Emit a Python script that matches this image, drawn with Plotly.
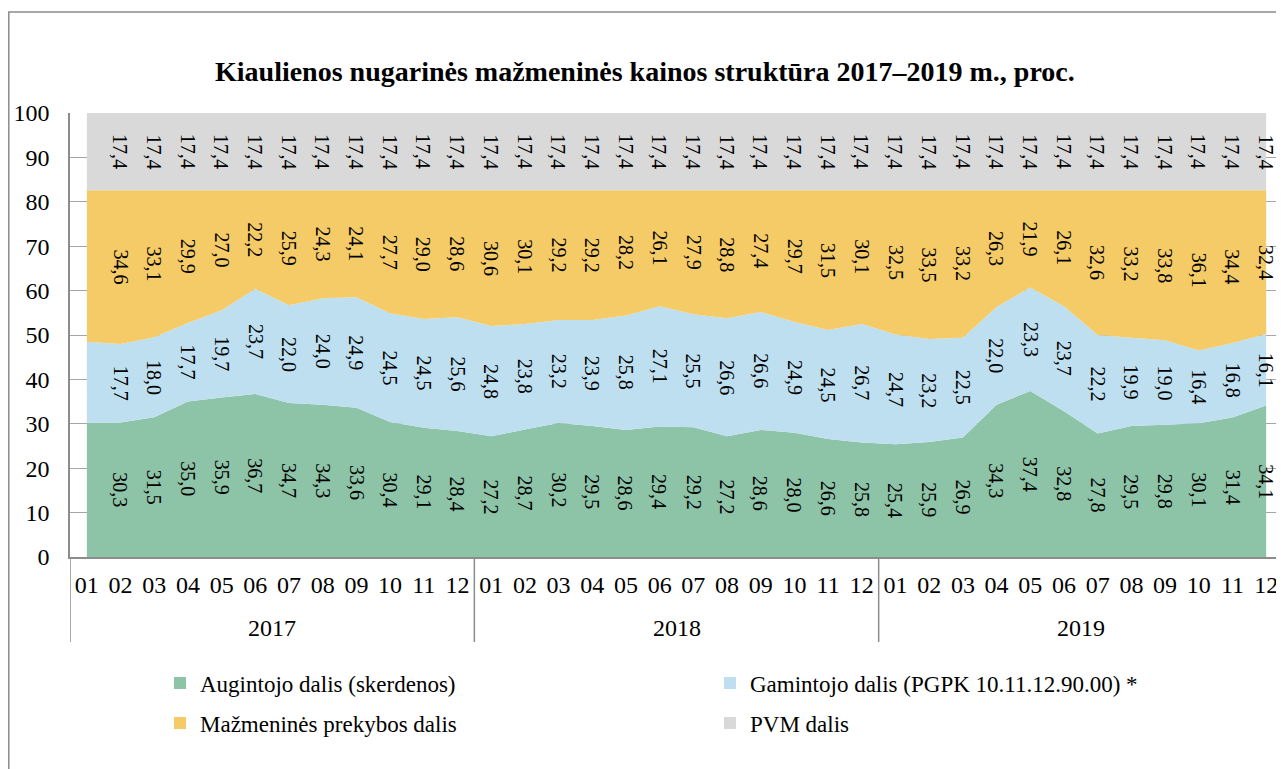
import plotly.graph_objects as go

years = ["2017", "2018", "2019"]
months = ["01", "02", "03", "04", "05", "06", "07", "08", "09", "10", "11", "12"]

augintojo = [30.2, 30.3, 31.5, 35.0, 35.9, 36.7, 34.7, 34.3, 33.6, 30.4, 29.1, 28.4,
             27.2, 28.7, 30.2, 29.5, 28.6, 29.4, 29.2, 27.2, 28.6, 28.0, 26.6, 25.8,
             25.4, 25.9, 26.9, 34.3, 37.4, 32.8, 27.8, 29.5, 29.8, 30.1, 31.4, 34.1]
gamintojo = [18.3, 17.7, 18.0, 17.7, 19.7, 23.7, 22.0, 24.0, 24.9, 24.5, 24.5, 25.6,
             24.8, 23.8, 23.2, 23.9, 25.8, 27.1, 25.5, 26.6, 26.6, 24.9, 24.5, 26.7,
             24.7, 23.2, 22.5, 22.0, 23.3, 23.7, 22.2, 19.9, 19.0, 16.4, 16.8, 16.1]
prekybos = [34.1, 34.6, 33.1, 29.9, 27.0, 22.2, 25.9, 24.3, 24.1, 27.7, 29.0, 28.6,
            30.6, 30.1, 29.2, 29.2, 28.2, 26.1, 27.9, 28.8, 27.4, 29.7, 31.5, 30.1,
            32.5, 33.5, 33.2, 26.3, 21.9, 26.1, 32.6, 33.2, 33.8, 36.1, 34.4, 32.4]
pvm = [17.4] * 36
# first month (2017-01) has no data labels in the source chart
labelled = [False] + [True] * 35

series_names = ["Augintojo dalis (skerdenos)", "Gamintojo dalis (PGPK 10.11.12.90.00) *",
                "Mažmeninės prekybos dalis", "PVM dalis"]
series_values = [augintojo, gamintojo, prekybos, pvm]
colors = ["#8DC3A7", "#BDDFEF", "#F4CB67", "#D9D9D9"]

FONT = "Liberation Serif"
W, H = 1276, 761          # page body has an 8px margin
ML, MR, MT, MB = 62, 1, 105, 212
PW = W - ML - MR
PH = H - MT - MB


def py(pix):  # figure pixel row -> paper y
    return (H - MB - pix) / PH


def px(pix):  # figure pixel column -> paper x
    return (pix - ML) / PW


n_m = len(months)
period_idx = list(range(len(years) * n_m))
tick_text = [m for _ in years for m in months]

legend_pos = [(152, 675), (702, 675), (152, 715), (702, 715)]
legend_ids = ["legend", "legend2", "legend3", "legend4"]

fig = go.Figure()
for name, vals, col in zip(series_names, series_values, colors):
    fig.add_trace(go.Scatter(x=period_idx, y=vals, name=name, stackgroup="one", mode="none",
                             fillcolor=col, showlegend=False, hoverinfo="skip"))
for name, col, lg in zip(series_names, colors, legend_ids):
    fig.add_trace(go.Scatter(x=[None], y=[None], name=name, mode="markers",
                             marker=dict(symbol="square", size=12, color=col),
                             legend=lg, showlegend=True))

annotations = []
base = [0.0] * len(period_idx)
for vals in series_values:
    for i, v in enumerate(vals):
        if labelled[i]:
            annotations.append(dict(
                x=period_idx[i], y=base[i] + v / 2, xref="x", yref="y",
                text=f"{v:.1f}".replace(".", ","), showarrow=False, textangle=90,
                font=dict(family=FONT, size=20, color="black")))
        base[i] += v

# year group labels and dividers
shapes = []
for k, yr in enumerate(years):
    first, last = k * n_m, (k + 1) * n_m - 1
    annotations.append(dict(x=(period_idx[first] + period_idx[last]) / 2, y=py(620),
                            xref="x", yref="paper", text=yr, showarrow=False,
                            yanchor="middle",
                            font=dict(family=FONT, size=24, color="black")))
    shapes.append(dict(type="line", xref="x", yref="paper",
                       x0=period_idx[first] - 0.5, x1=period_idx[first] - 0.5,
                       y0=0, y1=py(634), line=dict(color="#8C8C8C", width=1.5)))
shapes.append(dict(type="line", xref="x", yref="paper",
                   x0=period_idx[-1] + 0.5, x1=period_idx[-1] + 0.5,
                   y0=0, y1=py(634), line=dict(color="#8C8C8C", width=1.5)))

annotations.append(dict(
    text="<b>Kiaulienos nugarinės mažmeninės kainos struktūra 2017–2019 m., proc.</b>",
    xref="paper", yref="paper", x=px(637), y=py(64),
    xanchor="center", yanchor="middle", showarrow=False,
    font=dict(family=FONT, size=28, color="black")))

shapes.append(dict(type="rect", xref="paper", yref="paper",
                   x0=px(0.8), x1=1.2, y0=-1.0, y1=py(4),
                   line=dict(color="#8C8C8C", width=1.5), layer="below"))

legends = {}
for lg, (lx, ly) in zip(legend_ids, legend_pos):
    legends[lg] = dict(orientation="h", x=px(lx), xanchor="left",
                       y=py(ly), yanchor="middle", itemwidth=30,
                       traceorder="normal",
                       font=dict(family=FONT, size=23, color="black"),
                       bgcolor="rgba(0,0,0,0)")

fig.update_layout(
    width=W, height=H,
    margin=dict(l=ML, r=MR, t=MT, b=MB, autoexpand=False),
    paper_bgcolor="white", plot_bgcolor="white",
    font=dict(family=FONT, size=24, color="black"),
    annotations=annotations,
    shapes=shapes,
    xaxis=dict(tickmode="array", tickvals=period_idx, ticktext=tick_text,
               showline=True, linecolor="#8C8C8C", linewidth=1.5,
               ticks="", ticklabelstandoff=5,
               tickfont=dict(family=FONT, size=24, color="black"),
               showgrid=False, zeroline=False,
               range=[period_idx[0] - 0.5, period_idx[-1] + 0.5], automargin=False),
    yaxis=dict(range=[0, 100], dtick=10, showgrid=True, gridcolor="#A6A6A6", gridwidth=1,
               showline=True, linecolor="#8C8C8C", linewidth=1.5, zeroline=False,
               ticks="", ticklabelstandoff=14, automargin=False,
               tickfont=dict(family=FONT, size=24, color="black")),
    **legends,
)

fig.write_html("out.html")
